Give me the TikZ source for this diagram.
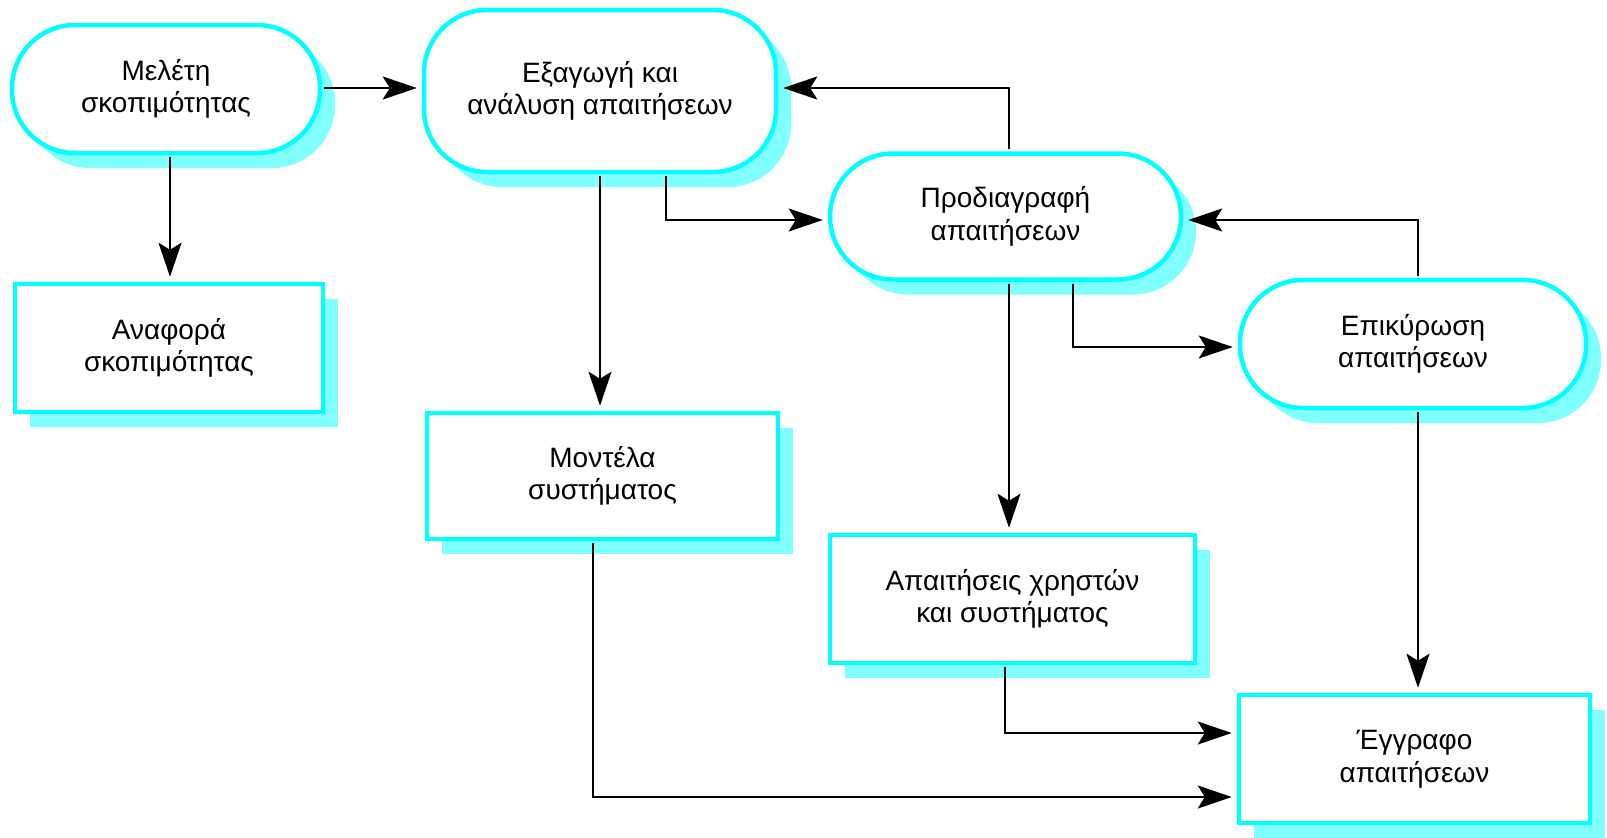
\documentclass[tikz,border=0pt]{standalone}
\usepackage{fontspec}
\setmainfont{Liberation Sans}
\usetikzlibrary{arrows.meta,calc,shadows}
\definecolor{bordc}{HTML}{00FFFF}
\definecolor{shadc}{HTML}{80FFFF}
\tikzset{
  basebox/.style={draw=bordc, line width=4.5pt, fill=white, align=center,
    font=\fontsize{28}{32.5}\selectfont, inner sep=0pt,
    drop shadow={shadow xshift=15pt, shadow yshift=-15pt, fill=shadc, opacity=1}},
  procbox/.style={basebox, rounded corners=63pt},
  docbox/.style={basebox},
  conn/.style={draw=black, line width=2.4pt,
    -{Stealth[length=34pt, width=23pt, inset=7pt]},
    shorten >=5pt, shorten <=2pt}
}
\begin{document}
\begin{tikzpicture}[x=1pt, y=-1pt]
\useasboundingbox (0,0) rectangle (1607,838);
\node[procbox, minimum width=308pt, minimum height=128pt] (n1) at (166,89) {Μελέτη\\σκοπιμότητας};
\node[procbox, minimum width=352pt, minimum height=162pt] (n2) at (600,91) {Εξαγωγή και\\ανάλυση απαιτήσεων};
\node[procbox, minimum width=351pt, minimum height=126pt] (n3) at (1005.5,216.5) {Προδιαγραφή\\απαιτήσεων};
\node[procbox, minimum width=346pt, minimum height=128pt] (n4) at (1413,344) {Επικύρωση\\απαιτήσεων};
\node[docbox, minimum width=308pt, minimum height=128pt] (n5) at (169,348) {Αναφορά\\σκοπιμότητας};
\node[docbox, minimum width=351pt, minimum height=126pt] (n6) at (602.5,476) {Μοντέλα\\συστήματος};
\node[docbox, minimum width=365pt, minimum height=128pt] (n7) at (1012.5,599) {Απαιτήσεις χρηστών\\και συστήματος};
\node[docbox, minimum width=351pt, minimum height=128pt] (n8) at (1414.5,759) {Έγγραφο\\απαιτήσεων};

\coordinate (s1) at ($(n1.south)+(4,0)$);
\coordinate (s2a) at ($(n2.south)+(66,0)$);
\coordinate (s3n) at ($(n3.north)+(3.5,0)$);
\coordinate (s3a) at ($(n3.south)+(3.5,0)$);
\coordinate (s3b) at ($(n3.south)+(67.5,0)$);
\coordinate (s4n) at ($(n4.north)+(5,0)$);
\coordinate (s4s) at ($(n4.south)+(5,0)$);
\coordinate (s7) at ($(n7.south)+(-7.5,0)$);
\coordinate (s6) at ($(n6.south)+(-9.5,0)$);

\draw[conn] (n1.east |- 0,88) -- (n2.west |- 0,88);
\draw[conn] (s1) -- (s1 |- n5.north);
\draw[conn] (n2.south) -- (n2.south |- n6.north);
\draw[conn] (s2a) |- (n3.west |- 0,220);
\draw[conn] (s3n) |- (n2.east |- 0,88);
\draw[conn] (s3a) -- (s3a |- n7.north);
\draw[conn] (s3b) |- (n4.west |- 0,347);
\draw[conn] (s4n) |- (n3.east |- 0,220);
\draw[conn] (s4s) -- (s4s |- n8.north);
\draw[conn] (s7) |- (n8.west |- 0,733);
\draw[conn] (s6) |- (n8.west |- 0,797);
\end{tikzpicture}
\end{document}
